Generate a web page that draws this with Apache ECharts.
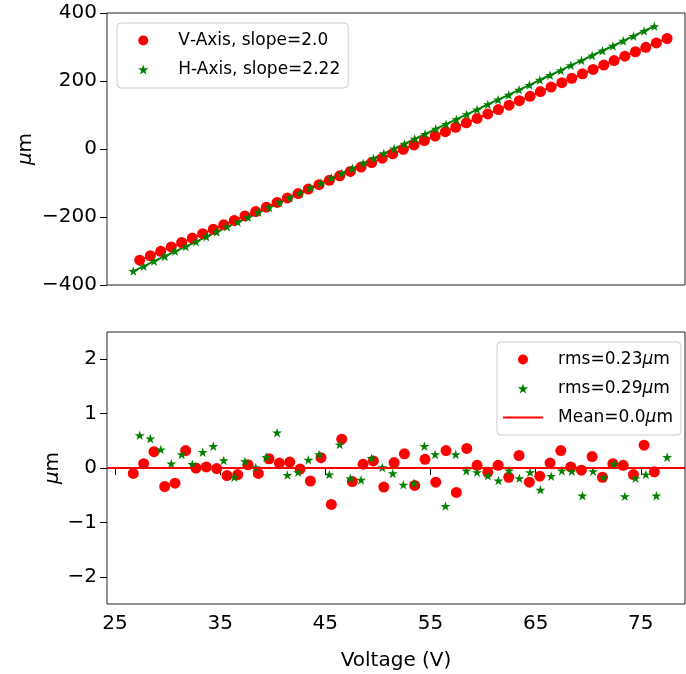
<!DOCTYPE html>
<html lang="en">
<head>
<meta charset="UTF-8">
<title>Displacement vs voltage</title>
<script src="https://cdn.jsdelivr.net/npm/echarts@6/dist/echarts.min.js"></script>
<style>
  html, body { margin: 0; padding: 0; background: #fff; }
  #main { width: 686px; height: 674px; }
</style>
</head>
<body>
<div id="main"></div>
<script>
// voltages (V); the two sets are offset a little
var voltsA = [26.74, 27.73, 28.71, 29.73, 30.71, 31.72, 32.70, 33.68, 34.67, 35.65,
  36.67, 37.65, 38.63, 39.65, 40.63, 41.62, 42.60, 43.58, 44.59, 45.57,
  46.56, 47.57, 48.59, 49.57, 50.56, 51.54, 52.52, 53.50, 54.48, 55.50,
  56.48, 57.46, 58.45, 59.43, 60.45, 61.43, 62.44, 63.42, 64.40, 65.39,
  66.37, 67.39, 68.34, 69.35, 70.37, 71.35, 72.34, 73.32, 74.30, 75.31, 76.29];
var voltsB = [27.35, 28.36, 29.35, 30.35, 31.34, 32.35, 33.34, 34.35, 35.34, 36.35,
  37.36, 38.38, 39.39, 40.41, 41.39, 42.41, 43.38, 44.40, 45.38, 46.37,
  47.38, 48.40, 49.41, 50.42, 51.41, 52.42, 53.44, 54.42, 55.44, 56.42,
  57.40, 58.41, 59.43, 60.45, 61.46, 62.47, 63.45, 64.47, 65.45, 66.47,
  67.49, 68.44, 69.45, 70.46, 71.48, 72.46, 73.48, 74.49, 75.48, 76.48, 77.50];

// top panel: displacement in um (V-Axis drawn at voltsB, H-Axis at voltsA)
var vAxisPos = [-327, -314, -301, -288, -275, -262, -249, -236, -223, -210,
  -197, -184, -171, -157, -144, -131, -118, -105, -92, -79,
  -66, -53, -40, -27, -14, -1, 12, 25, 38, 51,
  64, 77, 90, 103, 116, 129, 142, 155, 169, 182,
  195, 208, 221, 234, 247, 260, 273, 286, 299, 312, 325];
var hAxisPos = [-359, -345, -330, -316, -301, -287, -273, -258, -244, -229,
  -215, -201, -186, -172, -157, -143, -129, -114, -100, -85,
  -71, -57, -42, -28, -13, 1, 15, 30, 44, 59,
  73, 87, 102, 116, 131, 145, 159, 174, 188, 203,
  217, 231, 246, 260, 275, 289, 303, 318, 332, 347, 361];

// bottom panel: residuals in um (red at voltsA, green at voltsB)
var vResid = [-0.10, 0.08, 0.30, -0.34, -0.28, 0.32, 0.00, 0.02, -0.01, -0.14,
  -0.12, 0.06, -0.10, 0.17, 0.09, 0.11, -0.02, -0.24, 0.19, -0.67,
  0.53, -0.25, 0.07, 0.13, -0.35, 0.10, 0.26, -0.32, 0.16, -0.26,
  0.32, -0.45, 0.36, 0.05, -0.08, 0.05, -0.17, 0.23, -0.26, -0.15,
  0.09, 0.32, 0.02, -0.04, 0.21, -0.17, 0.08, 0.05, -0.12, 0.42, -0.07];
var hResid = [0.60, 0.54, 0.34, 0.08, 0.25, 0.07, 0.29, 0.40, 0.14, -0.17,
  0.12, 0.01, 0.20, 0.65, -0.13, -0.08, 0.15, 0.25, -0.12, 0.43,
  -0.19, -0.22, 0.18, 0.01, -0.10, -0.31, -0.28, 0.40, 0.25, -0.70,
  0.25, -0.05, -0.08, -0.14, -0.23, -0.05, -0.19, -0.08, -0.40, -0.15,
  -0.05, -0.06, -0.51, -0.06, -0.17, 0.07, -0.52, -0.19, -0.12, -0.51, 0.20];
var meanResid = 0.0;

var topNames = ['V-Axis, slope=2.0', 'H-Axis, slope=2.22'];
var botNames = ['rms=0.23µm', 'rms=0.29µm', 'Mean=0.0µm'];
var xTicks = [25, 35, 45, 55, 65, 75];
var yTicksTop = [-400, -200, 0, 200, 400];
var yTicksBot = [-2, -1, 0, 1, 2];

var RED = '#ff0000', GREEN = '#008000';
var FONT = 'DejaVu Sans';
var star = 'path://M50 0 L61.23 34.55 L97.55 34.55 L68.16 55.9 L79.39 90.45 L50 69.1 L20.61 90.45 L31.84 55.9 L2.45 34.55 L38.77 34.55 Z';
var bar = 'path://M0 0 H40 V2 H0 Z';

function pairs(xs, ys) {
  var out = [];
  for (var i = 0; i < xs.length; i++) out.push([xs[i], ys[i]]);
  return out;
}
function minusSign(v) {
  return String(v).replace('-', '\u2212');
}
// first letter carries the left padding, the mu is set in italic
function legendText(s) {
  var head = '{a|' + s.charAt(0) + '}';
  var rest = s.slice(1);
  var k = rest.indexOf('µ');
  if (k < 0) return head + '{n|' + rest + '}';
  return head + '{n|' + rest.slice(0, k) + '}{i|µ}{n|' + rest.slice(k + 1) + '}';
}

var tickFont = { fontFamily: FONT, fontSize: 20, color: '#000' };
var legFont = { fontFamily: FONT, fontSize: 17, color: '#000' };

function xAxisCfg(gridIndex, showLabels) {
  return {
    type: 'value', gridIndex: gridIndex, min: 24.24, max: 79.2,
    axisLine: { show: false },
    splitLine: { show: false },
    axisTick: { show: showLabels, length: 7, lineStyle: { color: '#000' }, customValues: xTicks },
    axisLabel: Object.assign({ show: showLabels, margin: 10, customValues: xTicks }, tickFont),
    name: showLabels ? 'Voltage (V)' : '',
    nameLocation: 'middle', nameGap: 47,
    nameTextStyle: { fontFamily: FONT, fontSize: 20, color: '#000' }
  };
}
function yAxisCfg(gridIndex, min, max, ticks, gap) {
  return {
    type: 'value', gridIndex: gridIndex, min: min, max: max,
    axisLine: { show: false },
    splitLine: { show: false },
    axisTick: { show: true, length: 7, lineStyle: { color: '#000' }, customValues: ticks },
    axisLabel: Object.assign({ margin: 10, customValues: ticks, formatter: minusSign }, tickFont),
    name: '{i|µ}m', nameLocation: 'middle', nameGap: gap, nameMoveOverlap: false,
    nameTextStyle: { fontFamily: FONT, fontSize: 20, color: '#000',
      rich: { i: { fontFamily: FONT, fontStyle: 'italic', fontSize: 20, color: '#000' } } }
  };
}

function makeLegend(left, top, pad, items) {
  return {
    orient: 'vertical', align: 'left', left: left, top: top,
    itemWidth: 40, itemHeight: 10, itemGap: 12, padding: pad,
    backgroundColor: 'rgba(255,255,255,0.8)', borderColor: '#ccc', borderWidth: 1, borderRadius: 4,
    textStyle: {
      fontFamily: FONT, fontSize: 17, color: '#000',
      rich: {
        a: Object.assign({ padding: [0, 0, 0, 10] }, legFont),
        n: legFont,
        i: Object.assign({ fontStyle: 'italic' }, legFont)
      }
    },
    formatter: legendText, selectedMode: false,
    data: items
  };
}

var option = {
  animation: false,
  backgroundColor: '#fff',
  grid: [
    { left: 107, top: 13, width: 578, height: 272, show: true, borderColor: '#222', borderWidth: 1 },
    { left: 107, top: 332, width: 578, height: 272, show: true, borderColor: '#222', borderWidth: 1 }
  ],
  xAxis: [xAxisCfg(0, false), xAxisCfg(1, true)],
  yAxis: [yAxisCfg(0, -400, 400, yTicksTop, 71), yAxisCfg(1, -2.5, 2.5, yTicksBot, 44)],
  legend: [
    makeLegend(497, 342, [9, 8, 9, 6], [{ name: botNames[0], icon: 'circle' }, { name: botNames[1], icon: star },
      { name: botNames[2], icon: bar }]),
    makeLegend(117, 23, [9, 8, 10, 21], [{ name: topNames[0], icon: 'circle' }, { name: topNames[1], icon: star }])
  ],
  series: [
    // top: fit lines under the markers
    { type: 'line', xAxisIndex: 0, yAxisIndex: 0, data: pairs(voltsB, vAxisPos), showSymbol: false,
      lineStyle: { color: RED, width: 2 }, z: 1, silent: true },
    { type: 'line', xAxisIndex: 0, yAxisIndex: 0, data: pairs(voltsA, hAxisPos), showSymbol: false,
      lineStyle: { color: GREEN, width: 2 }, z: 1, silent: true },
    { name: topNames[0], type: 'scatter', xAxisIndex: 0, yAxisIndex: 0, data: pairs(voltsB, vAxisPos),
      symbol: 'circle', symbolSize: 11, itemStyle: { color: RED, opacity: 1 }, z: 2 },
    { name: topNames[1], type: 'scatter', xAxisIndex: 0, yAxisIndex: 0, data: pairs(voltsA, hAxisPos),
      symbol: star, symbolSize: 10, symbolKeepAspect: true, itemStyle: { color: GREEN, opacity: 1 }, z: 3 },
    // bottom: residuals
    { name: botNames[2], type: 'line', xAxisIndex: 1, yAxisIndex: 1, data: [], symbol: 'none',
      itemStyle: { color: RED }, lineStyle: { color: RED, width: 2 }, z: 1,
      markLine: { silent: true, symbol: 'none', label: { show: false },
        lineStyle: { color: RED, width: 2, type: 'solid' }, data: [{ yAxis: meanResid }] } },
    { name: botNames[0], type: 'scatter', xAxisIndex: 1, yAxisIndex: 1, data: pairs(voltsA, vResid),
      symbol: 'circle', symbolSize: 11, itemStyle: { color: RED, opacity: 1 }, z: 2 },
    { name: botNames[1], type: 'scatter', xAxisIndex: 1, yAxisIndex: 1, data: pairs(voltsB, hResid),
      symbol: star, symbolSize: 10, symbolKeepAspect: true, itemStyle: { color: GREEN, opacity: 1 }, z: 3 }
  ]
};

var myChart = echarts.init(document.getElementById('main'));
myChart.setOption(option);
</script>
</body>
</html>
